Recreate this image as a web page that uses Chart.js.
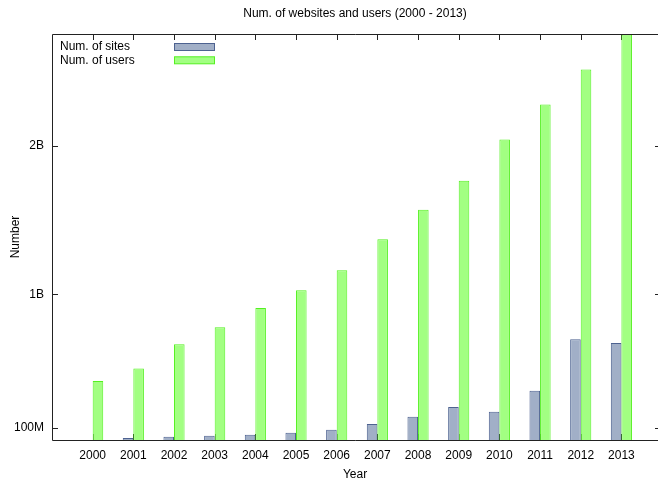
<!DOCTYPE html>
<html lang="en">
<head>
  <meta charset="UTF-8">
  <title>Num. of websites and users (2000 - 2013)</title>
  <script src="https://cdn.jsdelivr.net/npm/chart.js@4.4.1/dist/chart.umd.min.js"></script>
  <style>
    html, body { margin: 0; padding: 0; background: #fff; }
  </style>
</head>
<body>
  <canvas id="webChart" width="658" height="478"></canvas>
  <script>
    const years = [2000, 2001, 2002, 2003, 2004, 2005, 2006, 2007, 2008, 2009, 2010, 2011, 2012, 2013];
    const sites = [17e6, 31e6, 40e6, 46e6, 53e6, 67e6, 87e6, 125e6, 174e6, 240e6, 208e6, 349e6, 697e6, 672e6];
    const users = [415e6, 500e6, 663e6, 778e6, 908e6, 1027e6, 1161e6, 1370e6, 1569e6, 1765e6, 2043e6, 2279e6, 2514e6, 2750e6];
    const yTickValues = [1e8, 1e9, 2e9];
    const yTickLabels = ['100M', '1B', '2B'];

    Chart.defaults.font.family = '"Liberation Sans", Arial, sans-serif';
    Chart.defaults.font.size = 12;
    Chart.defaults.color = '#000';

    // gnuplot-ish frame: inward ticks, border box and legend inside the plot
    const gnuFrame = {
      id: 'gnuFrame',
      beforeDatasetsDraw(chart) {
        const {ctx, chartArea: a, scales: {x, y}} = chart;
        ctx.save();
        ctx.strokeStyle = '#222';
        ctx.lineWidth = 1;
        ctx.beginPath();
        years.forEach(yr => {
          const px = Math.round(x.getPixelForValue(yr)) + 0.5;
          ctx.moveTo(px, a.top); ctx.lineTo(px, a.top + 6);
          ctx.moveTo(px, a.bottom); ctx.lineTo(px, a.bottom - 6);
        });
        yTickValues.forEach(v => {
          const py = Math.round(y.getPixelForValue(v)) + 0.5;
          ctx.moveTo(a.left, py); ctx.lineTo(a.left + 6, py);
          ctx.moveTo(a.right, py); ctx.lineTo(a.right - 3, py);
        });
        ctx.stroke();
        ctx.restore();
      },
      afterDatasetsDraw(chart) {
        const {ctx, chartArea: a} = chart;
        ctx.save();
        ctx.strokeStyle = '#222';
        ctx.lineWidth = 1;
        ctx.beginPath();
        ctx.moveTo(Math.round(a.left) + 0.5, Math.round(a.bottom) + 0.5);
        ctx.lineTo(Math.round(a.left) + 0.5, Math.round(a.top) + 0.5);
        ctx.lineTo(a.right + 4, Math.round(a.top) + 0.5);
        ctx.moveTo(Math.round(a.left) + 0.5, Math.round(a.bottom) + 0.5);
        ctx.lineTo(a.right + 4, Math.round(a.bottom) + 0.5);
        ctx.stroke();
        ctx.font = '12px "Liberation Sans", Arial, sans-serif';
        ctx.textBaseline = 'middle';
        chart.data.datasets.forEach((ds, i) => {
          const cy = a.top + 13 + i * 13.3;
          ctx.fillStyle = '#000';
          ctx.fillText(ds.label, a.left + 8, cy);
          ctx.fillStyle = ds.backgroundColor;
          ctx.fillRect(a.left + 122.5, cy - 3.5, 40, 7);
          ctx.strokeStyle = ds.borderColor;
          ctx.strokeRect(a.left + 122.5, cy - 3.5, 40, 7);
        });
        ctx.restore();
      }
    };

    new Chart(document.getElementById('webChart'), {
      type: 'bar',
      data: {
        datasets: [{
          label: 'Num. of sites',
          data: years.map((yr, i) => ({x: yr, y: sites[i]})),
          backgroundColor: '#a1afc7',
          borderColor: '#4d6290',
          borderWidth: 1,
          categoryPercentage: 0.52,
          barPercentage: 1.0
        }, {
          label: 'Num. of users',
          data: years.map((yr, i) => ({x: yr, y: users[i]})),
          backgroundColor: '#a2ff82',
          borderColor: '#55f022',
          borderWidth: 1,
          categoryPercentage: 0.52,
          barPercentage: 1.0
        }]
      },
      options: {
        responsive: false,
        animation: false,
        layout: { padding: { left: 0, right: 0, top: 0, bottom: 0 } },
        plugins: {
          legend: { display: false },
          tooltip: { enabled: false },
          title: {
            display: true,
            text: 'Num. of websites and users (2000 - 2013)',
            fullSize: false,
            font: { size: 12, weight: 'normal' },
            color: '#000',
            padding: { top: 6, bottom: 13.6 }
          }
        },
        scales: {
          x: {
            type: 'linear',
            offset: false,
            min: 1999,
            max: 2013.9,
            grid: { display: false, drawTicks: false },
            border: { display: false },
            ticks: {
              stepSize: 1,
              includeBounds: false,
              autoSkip: false,
              maxRotation: 0,
              padding: 8,
              callback: v => (years.includes(v) ? String(v) : '')
            },
            title: { display: true, text: 'Year', padding: { top: 0, bottom: -4 } },
            afterFit(scale) {
              scale.height = 38;
              scale.paddingLeft = 0;
              scale.paddingRight = 0;
            }
          },
          y: {
            min: 17.5e6,
            max: 2.754e9,
            grid: { display: false, drawTicks: false },
            border: { display: false },
            afterBuildTicks(scale) { scale.ticks = yTickValues.map(v => ({value: v})); },
            ticks: {
              padding: 8,
              callback: v => yTickLabels[yTickValues.indexOf(v)]
            },
            title: { display: true, text: 'Number', padding: { top: 8, bottom: 0 } },
            afterFit(scale) { scale.width = 52; }
          }
        }
      },
      plugins: [gnuFrame]
    });
  </script>
</body>
</html>
